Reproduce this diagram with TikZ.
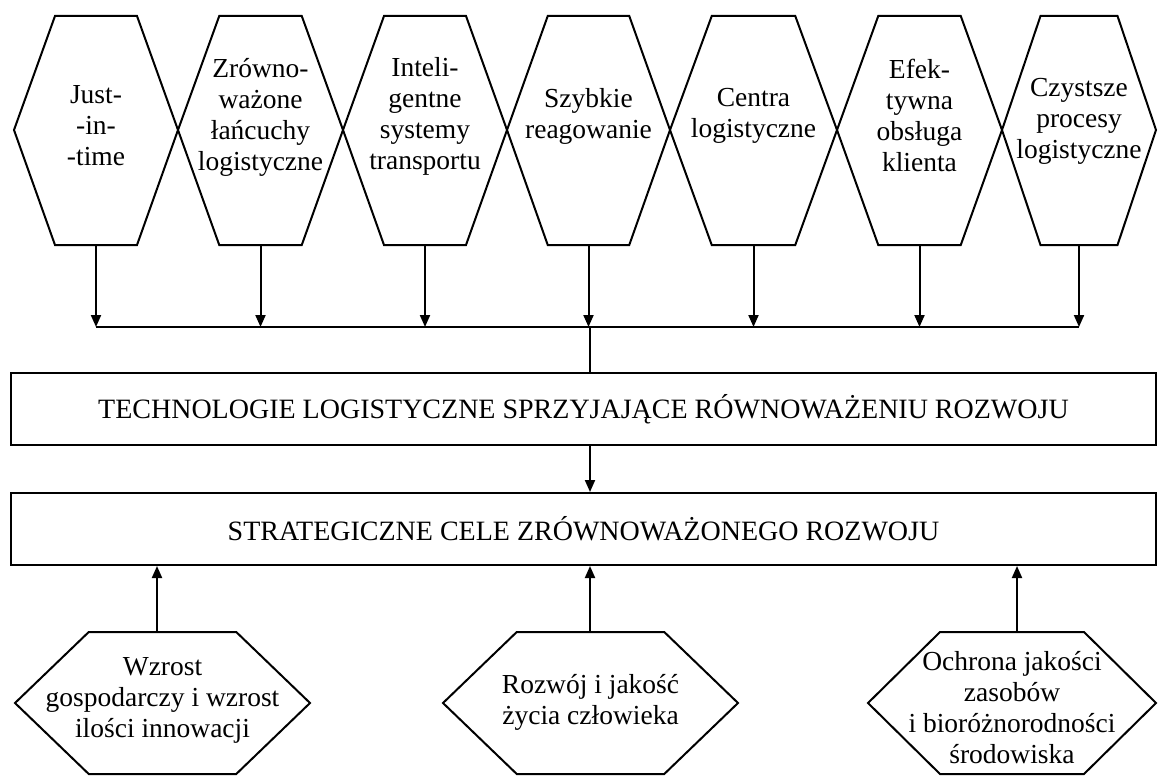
\documentclass[tikz,border=0pt]{standalone}
\usepackage{fontspec}
\setmainfont{Liberation Serif}
\usetikzlibrary{arrows.meta,calc}
\begin{document}
\begin{tikzpicture}[x=1pt,y=-1pt,
  line width=2pt, line join=miter,
  arr/.style={-{Triangle[length=12pt,width=10pt]}},
  hextext/.style={align=center,font=\fontsize{27.5}{31}\selectfont,inner sep=0pt},
  boxstyle/.style={draw,minimum width=1145pt,minimum height=72pt,inner sep=0pt,font=\fontsize{28}{32}\selectfont}
]
\useasboundingbox (0,0) rectangle (1158,776);
\fill[white] (0,0) rectangle (1158,776);

% top hexagons
\foreach \n/\l/\r/\ty/\txt in {
  1/14/178/126/{Just-\\-in-\\-time},
  2/178/343/117/{Zrówno-\\ważone\\łańcuchy\\logistyczne},
  3/343/507/116/{Inteli-\\gentne\\systemy\\transportu},
  4/507/670/116/{Szybkie\\reagowanie},
  5/670/837/116/{Centra\\logistyczne},
  6/837/1002/115/{Efek-\\tywna\\obsługa\\klienta},
  7/1002/1156/121/{Czystsze\\procesy\\logistyczne}}{
  \pgfmathsetmacro\c{(\l+\r)/2}
  \pgfmathsetmacro\q{(\r-\l)/4}
  \draw (\l,130) -- (\c-\q,16) -- (\c+\q,16) -- (\r,130) -- (\c+\q,245) -- (\c-\q,245) -- cycle;
  \node[hextext] (h\n) at (\c,\ty) {\txt};
  \coordinate (hb\n) at (\c,245);
}

\coordinate (bus) at (590,327);
\foreach \n in {1,...,7}{
  \draw[arr] (hb\n) -- (hb\n |- bus);
}
\draw (hb1 |- bus) -- (hb7 |- bus);

\node[boxstyle] (tech) at (583.5,409) {TECHNOLOGIE LOGISTYCZNE SPRZYJAJĄCE RÓWNOWAŻENIU ROZWOJU};
\node[boxstyle] (strat) at (583.5,529) {STRATEGICZNE CELE ZRÓWNOWAŻONEGO ROZWOJU};

\draw (bus) -- (bus |- tech.north);
\draw[arr] (bus |- tech.south) -- (bus |- strat.north);

% bottom hexagons
\foreach \n/\l/\r/\ax/\ty/\txt in {
  1/15/310/157/700/{Wzrost\\gospodarczy i wzrost\\ilości innowacji},
  2/443/738/590/702/{Rozwój i jakość\\życia człowieka},
  3/868/1156/1017/708/{Ochrona jakości\\zasobów\\i bioróżnorodności\\środowiska}}{
  \pgfmathsetmacro\c{(\l+\r)/2}
  \pgfmathsetmacro\q{(\r-\l)/4}
  \draw (\l,703) -- (\c-\q,632) -- (\c+\q,632) -- (\r,703) -- (\c+\q,774) -- (\c-\q,774) -- cycle;
  \node[hextext] (b\n) at (\c,\ty) {\txt};
  \coordinate (bt\n) at (\ax,632);
  \draw[arr] (bt\n) -- (bt\n |- strat.south);
}
\end{tikzpicture}
\end{document}
